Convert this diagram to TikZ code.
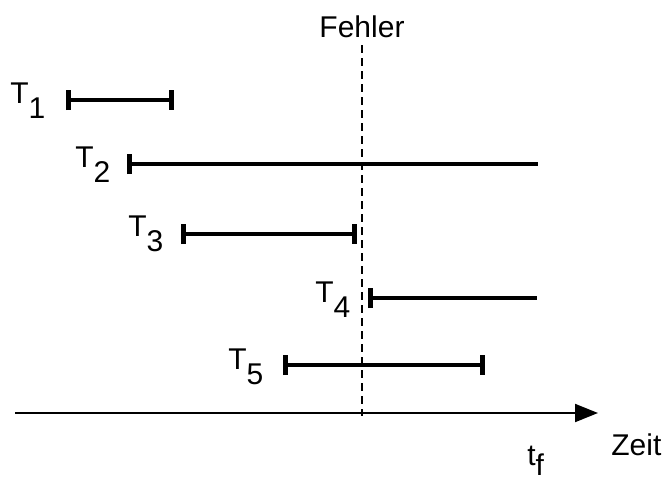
\documentclass[tikz,border=0pt]{standalone}
\usepackage{fontspec}
\setmainfont{Liberation Sans}
\usetikzlibrary{arrows.meta}

\newcommand{\lowsub}[2]{#1\raisebox{-0.5em}{#2}}

\tikzset{
  interval/.style={line width=2.3pt},
  bothends/.style={interval, {Bar[width=10pt,line width=2.3pt]}-{Bar[width=10pt,line width=2.3pt]}},
  leftend/.style={interval, {Bar[width=10pt,line width=2.3pt]}-},
  lbl/.style={font=\fontsize{15}{18}\selectfont, inner sep=0pt},
}

\begin{document}
\begin{tikzpicture}[%
      x=0.5pt, y=-0.5pt,
      ]
      \useasboundingbox (0,0) rectangle (665,479);

      % time axis
      \coordinate (axl) at (15,413);
      \coordinate (axr) at (598,413);
      \draw [line width=1pt, -{Triangle[length=11.5pt,width=9pt]}] (axl) -- (axr);
      \node [lbl, anchor=west] (zeit) at (611,445) {Zeit};
      \node [lbl, anchor=base west] (tf) at (527,465) {t\raisebox{-0.35em}{f}};

      % failure
      \node [lbl] (fehler) at (362,27) {Fehler};
      \coordinate (ftop) at (362,45);
      \coordinate (fbot) at (362,416);
      \draw [line width=1pt, dash pattern=on 4pt off 2.5pt] (ftop) -- (fbot);

      % intervals
      \coordinate (a1) at (66,100);  \coordinate (b1) at (174,100);
      \coordinate (a2) at (127,164); \coordinate (b2) at (538,164);
      \coordinate (a3) at (181,234); \coordinate (b3) at (357,234);
      \coordinate (a4) at (368,298); \coordinate (b4) at (537,298);
      \coordinate (a5) at (283,365); \coordinate (b5) at (485,365);

      \draw [bothends] (a1) -- (b1);
      \draw [leftend] (a2) -- (b2);
      \draw [bothends] (a3) -- (b3);
      \draw [leftend] (a4) -- (b4);
      \draw [bothends] (a5) -- (b5);

      \node [lbl, anchor=base west] (t1) at (10,103) {\lowsub{T}{1}};
      \node [lbl, anchor=base west] (t2) at (75,167) {\lowsub{T}{2}};
      \node [lbl, anchor=base west] (t3) at (128,236) {\lowsub{T}{3}};
      \node [lbl, anchor=base west] (t4) at (315,302) {\lowsub{T}{4}};
      \node [lbl, anchor=base west] (t5) at (228,369) {\lowsub{T}{5}};
      \end{tikzpicture}
\end{document}
